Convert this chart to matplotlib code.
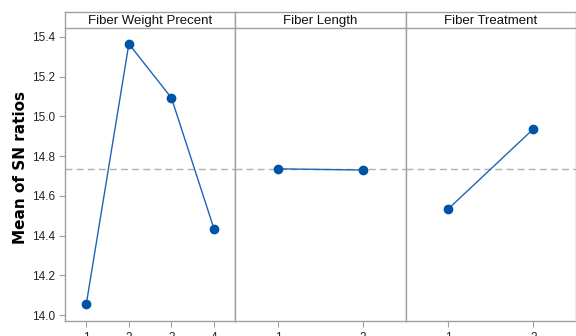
import numpy as np
import matplotlib.pyplot as plt

plt.rcParams["font.family"] = ["Liberation Sans", "DejaVu Sans"]

factors = ["Fiber Weight Precent", "Fiber Length", "Fiber Treatment"]
levels = [[1, 2, 3, 4], [1, 2], [1, 2]]
sn_means = [[14.055, 15.365, 15.093, 14.433], [14.736, 14.730], [14.534, 14.937]]
overall_mean = 14.733

W, H = 576, 336
fig = plt.figure(figsize=(W / 100, H / 100), dpi=100)

left, right = 65 / W, 1.0
bottom, top = 1 - 321 / H, 1 - 28 / H
strip_h = 16 / H
pw = (right - left) / 3
frame = "#a0a0a0"
blue = "#0054a6"

for i, (name, lv, vals) in enumerate(zip(factors, levels, sn_means)):
    ax = fig.add_axes([left + i * pw, bottom, pw, top - bottom])
    ax.plot(lv, vals, color="#1f63b5", lw=1.0, marker="o", ms=6,
            mfc=blue, mec=blue, zorder=3)
    ax.axhline(overall_mean, color="#b0b0b0", lw=1.0, ls=(0, (5, 3)), zorder=1)
    ax.set_xlim(0.5, len(lv) + 0.5)
    ax.set_ylim(13.97, 15.445)
    ax.set_xticks(lv)
    ax.tick_params(axis="x", direction="out", length=4, color=frame,
                   labelsize=8.5, pad=4, labelcolor="#222222")
    if i == 0:
        ax.set_yticks(np.arange(14.0, 15.41, 0.2))
        ax.yaxis.set_major_formatter(plt.FormatStrFormatter("%.1f"))
        ax.tick_params(axis="y", direction="out", length=4, color=frame,
                       labelsize=8.5, pad=3, labelcolor="#222222")
    else:
        ax.tick_params(axis="y", left=False, labelleft=False)
    for s in ax.spines.values():
        s.set_color(frame)
        s.set_linewidth(1.0)
    ax.spines["top"].set_visible(False)

    st = fig.add_axes([left + i * pw, top, pw, strip_h])
    st.set_xticks([])
    st.set_yticks([])
    for s in st.spines.values():
        s.set_color(frame)
        s.set_linewidth(1.0)
    st.text(0.5, 0.45, name, ha="center", va="center", fontsize=9.5,
            color="#111111", transform=st.transAxes)

fig.text(21 / W, 1 - 167 / H, "Mean of SN ratios", rotation=90,
         ha="center", va="center", fontsize=11, fontweight="bold",
         family="DejaVu Sans")

fig.savefig("out.png", dpi=100, facecolor="white")
